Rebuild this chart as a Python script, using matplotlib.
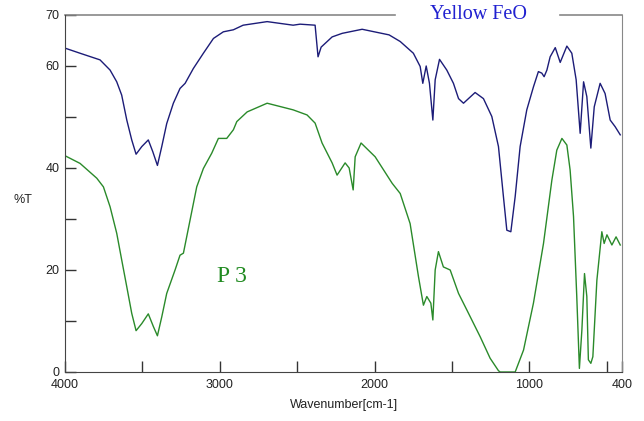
import matplotlib
matplotlib.use("Agg")
import matplotlib.pyplot as plt

# spectrum of Yellow FeO (blue, top)
wn_feo = [4000, 3903, 3774, 3709, 3666, 3634, 3601, 3569, 3541, 3504, 3462, 3433,
          3403, 3375, 3343, 3300, 3257, 3224, 3171, 3106, 3041, 2977, 2912, 2849,
          2694, 2526, 2481, 2384, 2365, 2345, 2274, 2209, 2080, 1906, 1834, 1749,
          1705, 1688, 1666, 1645, 1623, 1608, 1580, 1533, 1490, 1457, 1425, 1393,
          1350, 1296, 1242, 1199, 1167, 1145, 1119, 1091, 1059, 1016, 973, 941,
          919, 904, 886, 865, 832, 800, 757, 725, 697, 671, 649, 628, 602, 580,
          542, 510, 477, 445, 412]
t_feo = [63.5, 62.5, 61.2, 59.2, 56.9, 54.3, 49.4, 45.5, 42.7, 44.2, 45.5, 43.2,
         40.5, 44.2, 48.7, 52.7, 55.6, 56.6, 59.5, 62.5, 65.4, 66.7, 67.1, 68.0,
         68.7, 68.0, 68.2, 68.0, 61.8, 63.7, 65.7, 66.4, 67.2, 66.1, 64.8, 62.5,
         59.9, 56.6, 60.0, 56.6, 49.4, 57.3, 61.3, 59.2, 56.6, 53.6, 52.7, 53.6,
         54.8, 53.6, 50.1, 44.2, 34.4, 27.8, 27.5, 34.4, 44.2, 51.4, 55.9, 58.9,
         58.6, 57.9, 59.2, 61.8, 63.6, 60.7, 63.9, 62.5, 57.3, 46.8, 56.9, 54.0,
         43.9, 52.0, 56.6, 54.6, 49.4, 48.1, 46.5]

# spectrum of P 3 (green, bottom)
wn_p3 = [4000, 3903, 3795, 3752, 3709, 3666, 3634, 3601, 3569, 3541, 3504, 3462,
         3429, 3403, 3375, 3343, 3289, 3257, 3235, 3192, 3149, 3106, 3052, 3009,
         2955, 2912, 2890, 2823, 2694, 2526, 2436, 2384, 2339, 2274, 2242, 2190,
         2164, 2138, 2125, 2087, 1996, 1886, 1834, 1770, 1716, 1684, 1662, 1636,
         1623, 1608, 1587, 1555, 1511, 1457, 1404, 1317, 1253, 1199, 1188, 1091,
         1037, 973, 908, 854, 822, 789, 757, 736, 714, 693, 676, 660, 643, 628,
         618, 602, 589, 563, 531, 516, 498, 466, 439, 412]
t_p3 = [42.4, 40.9, 38.0, 36.3, 32.4, 27.2, 22.0, 16.7, 11.5, 8.1, 9.5, 11.4,
        8.9, 7.1, 10.8, 15.4, 20.0, 22.9, 23.3, 29.8, 36.3, 39.9, 42.9, 45.8,
        45.8, 47.5, 49.1, 51.0, 52.7, 51.4, 50.4, 48.8, 44.9, 41.0, 38.6, 41.0,
        40.0, 35.7, 42.2, 44.9, 42.2, 37.0, 35.0, 29.1, 18.7, 13.1, 14.8, 13.5,
        10.2, 20.0, 23.6, 20.6, 20.0, 15.4, 12.2, 6.9, 2.7, 0.25, 0.0, 0.0,
        4.3, 13.5, 25.2, 37.6, 43.5, 45.8, 44.5, 39.6, 30.5, 14.8, 0.7, 8.2,
        19.3, 14.8, 2.4, 1.7, 3.0, 18.0, 27.5, 25.2, 26.9, 24.9, 26.5, 24.9]

x_ticks = [4000, 3000, 2000, 1000, 400]
y_ticks = [0, 20, 40, 60, 70]
y_minor = [10, 30, 50]
x_minor = [3500, 2500, 1500, 500]

plt.rcParams['font.family'] = ['Liberation Sans', 'DejaVu Sans']

fig = plt.figure(figsize=(6.44, 4.21), dpi=100)
ax = fig.add_axes([0.101, 0.1164, 0.865, 0.848])

ax.plot(wn_feo, t_feo, color='#1c1c78', lw=1.0)
ax.plot(wn_p3, t_p3, color='#2a8a2a', lw=1.0)

ax.set_xlim(4000, 400)
ax.set_ylim(0, 70)
ax.set_xticks(x_ticks)
ax.set_yticks(y_ticks)
ax.set_xticks(x_minor, minor=True)
ax.set_yticks(y_minor, minor=True)
ax.tick_params(which='both', direction='in', length=8, width=1, colors='#333333',
               labelsize=9, labelcolor='#222222')
ax.tick_params(axis='y', pad=4)
ax.tick_params(axis='x', pad=5)

for side in ['left', 'bottom']:
    ax.spines[side].set_color('#444444')
ax.spines['right'].set_color('#888888')
ax.spines['top'].set_visible(False)
# top frame with a gap for the title
ax.plot([0, 0.592], [1, 1], color='#888888', lw=1.2, transform=ax.transAxes, clip_on=False)
ax.plot([0.889, 1], [1, 1], color='#888888', lw=1.2, transform=ax.transAxes, clip_on=False)

ax.text(0.7425, 1.0, 'Yellow FeO', transform=ax.transAxes, ha='center', va='center',
        color='#2020d0', fontsize=14.5, family='Liberation Serif')
ax.text(2920, 18.8, 'P 3', ha='center', va='center', color='#208a20',
        fontsize=17, family='Liberation Serif')

fig.text(0.036, 0.525, '%T', ha='center', va='center', fontsize=9, color='#222222')
ax.set_xlabel('Wavenumber[cm-1]', fontsize=9, color='#222222', labelpad=6)

fig.savefig('out.png', dpi=100)
